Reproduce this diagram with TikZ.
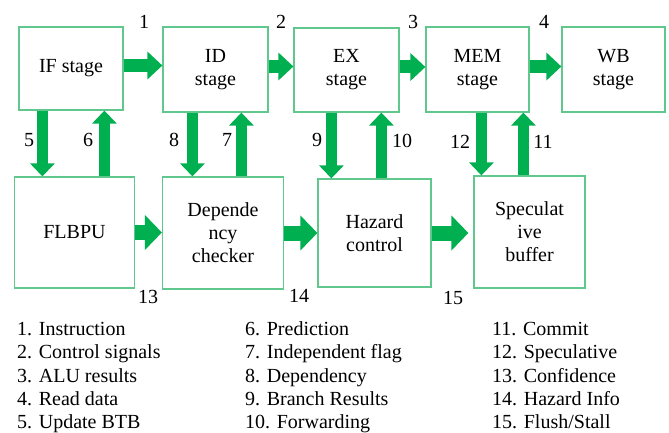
\documentclass[tikz,border=0pt]{standalone}
\usepackage{fontspec}
\setmainfont{Liberation Serif}
\usetikzlibrary{arrows.meta}
\definecolor{boxgreen}{RGB}{96,200,140}
\definecolor{arrowgreen}{RGB}{0,176,80}
\tikzset{
  stage/.style={draw=boxgreen,line width=1.2pt,inner sep=0pt,align=center,font=\fontsize{20}{23}\selectfont},
  num/.style={inner sep=0pt,font=\fontsize{20}{23}\selectfont},
  legend/.style={anchor=base west,inner sep=0pt,font=\fontsize{20}{23}\selectfont},
  toparrow/.style={arrowgreen,line width=13pt,-{Triangle[length=15pt,width=27pt]}},
  botarrow/.style={arrowgreen,line width=15pt,-{Triangle[length=17pt,width=34pt]}},
  vertarrow/.style={arrowgreen,line width=11pt,-{Triangle[length=13pt,width=24pt]}},
}
\begin{document}
\begin{tikzpicture}[x=1pt,y=-1pt]
\useasboundingbox (0,0) rectangle (669,433);
% pipeline stages
\node[stage,minimum width=104pt,minimum height=83pt] (IF) at (71,68.5) {IF stage};
\node[stage,minimum width=105pt,minimum height=85pt] (ID) at (215.5,69.5) {ID\\stage};
\node[stage,minimum width=105pt,minimum height=84pt] (EX) at (346.5,70) {EX\\stage};
\node[stage,minimum width=103pt,minimum height=85pt] (MEM) at (477.5,69.5) {MEM\\stage};
\node[stage,minimum width=103pt,minimum height=85pt] (WB) at (613.5,69.5) {WB\\stage};
% support units
\node[stage,minimum width=120pt,minimum height=111pt] (FLBPU) at (74.5,232.5) {FLBPU};
\node[stage,minimum width=121pt,minimum height=112pt] (DEP) at (223,233) {Depende\\ncy\\checker};
\node[stage,minimum width=113pt,minimum height=108pt] (HAZ) at (374.5,233) {Hazard\\control};
\node[stage,minimum width=111pt,minimum height=112pt] (SPEC) at (529.5,232) {Speculat\\ive\\buffer};
% forward arrows
\draw[toparrow] ([yshift=3pt]IF.east) -- ([yshift=3pt]IF.east -| ID.west);
\draw[toparrow] ([yshift=3pt]ID.east) -- ([yshift=3pt]ID.east -| EX.west);
\draw[toparrow] ([yshift=3pt]EX.east) -- ([yshift=3pt]EX.east -| MEM.west);
\draw[toparrow] ([yshift=3pt]MEM.east) -- ([yshift=3pt]MEM.east -| WB.west);
\draw[botarrow] (FLBPU.east) -- (FLBPU.east -| DEP.west);
\draw[botarrow] (DEP.east) -- (DEP.east -| HAZ.west);
\draw[botarrow,shorten >=5pt] (HAZ.east) -- (HAZ.east -| SPEC.west);
% vertical arrows
\draw[vertarrow] ([xshift=24pt]IF.south west) -- ([xshift=24pt]IF.south west |- FLBPU.north);
\draw[vertarrow] ([xshift=86pt]IF.south west |- FLBPU.north) -- ([xshift=86pt]IF.south west);
\draw[vertarrow] ([xshift=30pt]ID.south west) -- ([xshift=30pt]ID.south west |- DEP.north);
\draw[vertarrow] ([xshift=79pt]ID.south west |- DEP.north) -- ([xshift=79pt]ID.south west);
\draw[vertarrow] ([xshift=38pt]EX.south west) -- ([xshift=38pt]EX.south west |- HAZ.north);
\draw[vertarrow] ([xshift=88pt]EX.south west |- HAZ.north) -- ([xshift=88pt]EX.south west);
\draw[vertarrow] ([xshift=56pt]MEM.south west) -- ([xshift=56pt]MEM.south west |- SPEC.north);
\draw[vertarrow] ([xshift=98pt]MEM.south west |- SPEC.north) -- ([xshift=98pt]MEM.south west);
% arrow numbers
\node[num] (n1) at (144,22) {1};
\node[num] (n2) at (281,22) {2};
\node[num] (n3) at (413,22) {3};
\node[num] (n4) at (544,22) {4};
\node[num] (n5) at (29,140) {5};
\node[num] (n6) at (88,140) {6};
\node[num] (n7) at (227,140) {7};
\node[num] (n8) at (174,140) {8};
\node[num] (n9) at (317,140) {9};
\node[num] (n10) at (402,141) {10};
\node[num] (n11) at (543,142) {11};
\node[num] (n12) at (460,142) {12};
\node[num] (n13) at (148,297) {13};
\node[num] (n14) at (299,296) {14};
\node[num] (n15) at (453,298) {15};
% legend
\node[legend] (k1) at (17,335) {1. Instruction};
\node[legend] (k2) at (17,358.5) {2. Control signals};
\node[legend] (k3) at (17,382) {3. ALU results};
\node[legend] (k4) at (17,405.5) {4. Read data};
\node[legend] (k5) at (17,428.5) {5. Update BTB};
\node[legend] (k6) at (245,335) {6. Prediction};
\node[legend] (k7) at (245,358.5) {7. Independent flag};
\node[legend] (k8) at (245,382) {8. Dependency};
\node[legend] (k9) at (245,405.5) {9. Branch Results};
\node[legend] (k10) at (245,428.5) {10. Forwarding};
\node[legend] (k11) at (492,335) {11. Commit};
\node[legend] (k12) at (492,358.5) {12. Speculative};
\node[legend] (k13) at (492,382) {13. Confidence};
\node[legend] (k14) at (492,405.5) {14. Hazard Info};
\node[legend] (k15) at (492,428.5) {15. Flush/Stall};
\end{tikzpicture}
\end{document}
